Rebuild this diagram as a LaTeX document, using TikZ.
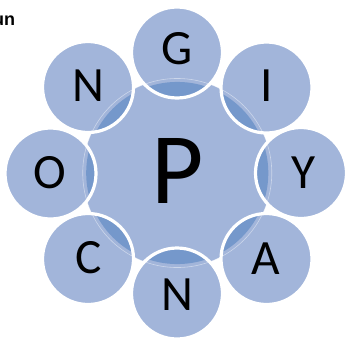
\documentclass[tikz,border=0pt]{standalone}
\usepackage{fontspec}
\setmainfont{Carlito}
\newfontfamily\cornerfont{Liberation Sans}
\definecolor{lightb}{RGB}{162,181,218}
\definecolor{darkb}{RGB}{117,152,203}
\begin{document}
\begin{tikzpicture}[x=0.75pt,y=-0.75pt,
  petal/.style={fill=lightb},
  rim/.style={draw=white,line width=2.4pt},
  lens/.style={fill=darkb},
  faint/.style={draw=white,draw opacity=0.45,line width=0.45pt},
  lbl/.style={font=\fontsize{37}{40}\selectfont,text=black,inner sep=0pt},
  biglbl/.style={font=\fontsize{76}{80}\selectfont,text=black,inner sep=0pt},
  cornerlbl/.style={font=\cornerfont\bfseries\fontsize{13.5}{15}\selectfont,text=black,inner sep=0pt}
 ]
\useasboundingbox (0,0) rectangle (348,339);
\def\orad{34.125pt}
\coordinate (ctr) at (177.25,173);
\coordinate (cg) at (177,52.5);
\coordinate (ci) at (266.5,87.5);
\coordinate (cy) at (301,173);
\coordinate (ca) at (266.5,259);
\coordinate (cn) at (177,293.5);
\coordinate (cc) at (88,259);
\coordinate (co) at (50.5,173.5);
\coordinate (cm) at (88,87);
% central circle
\fill[petal] (ctr) circle[radius=70.9pt];
% outer circles
\foreach \p in {cg,ci,cy,ca,cn,cc,co,cm}{\fill[petal] (\p) circle[radius=\orad];}
% darker overlaps
\foreach \p in {cg,ci,cy,ca,cn,cc,co,cm}{
  \begin{scope}
    \clip (\p) circle[radius=\orad];
    \fill[lens] (ctr) circle[radius=68.3pt];
  \end{scope}}
\draw[faint] (ctr) circle[radius=70.9pt];
\foreach \p in {cg,ci,cy,ca,cn,cc,co,cm}{\draw[rim] (\p) circle[radius=\orad];}
% labels
\node[biglbl] (p) at (178,170.5) {P};
\node[lbl] (g) at (177,49) {G};
\node[lbl] (i) at (266.5,86) {I};
\node[lbl] (y) at (304,172.5) {Y};
\node[lbl] (a) at (266,259) {A};
\node[lbl] (n1) at (177.5,294.5) {N};
\node[lbl] (c) at (89,258) {C};
\node[lbl] (o) at (49.5,173) {O};
\node[lbl] (n2) at (88.5,86) {N};
\node[cornerlbl,anchor=base east] (un) at (15.5,25) {un};
\end{tikzpicture}
\end{document}
